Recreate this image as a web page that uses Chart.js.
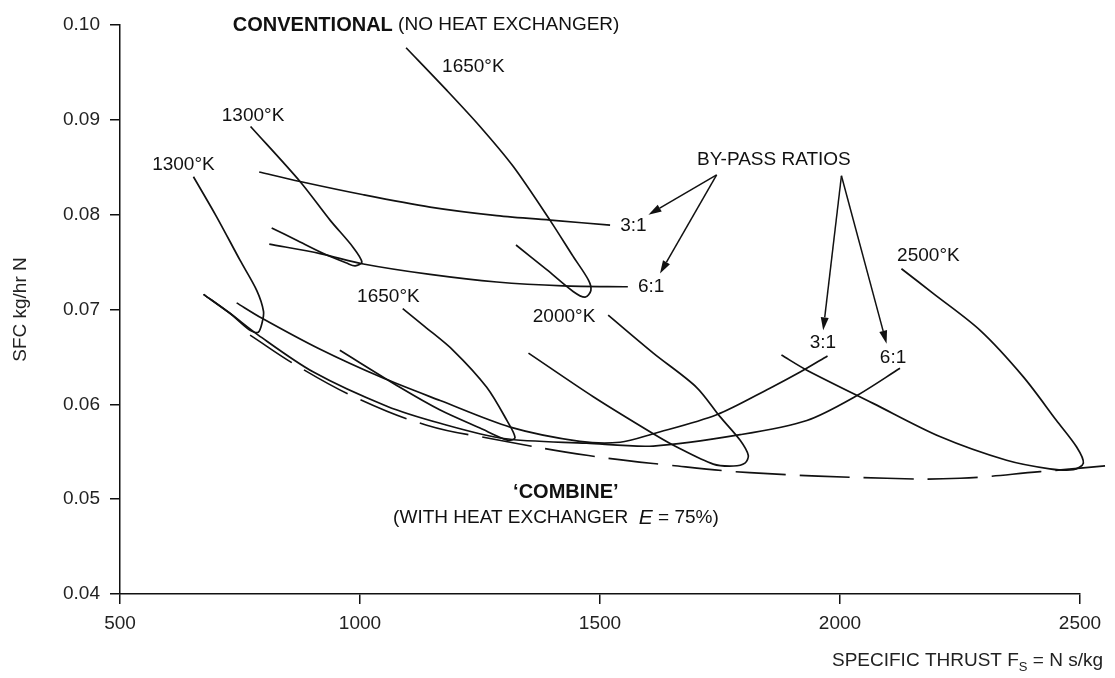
<!DOCTYPE html>
<html>
<head>
<meta charset="utf-8">
<script src="https://cdn.jsdelivr.net/npm/chart.js@4.4.1/dist/chart.umd.min.js"></script>
<style>
    body { margin: 0; background: #fff; }
</style>
</head>
<body>
<canvas id="sfcChart" width="1115" height="678"></canvas>
<script>
// Specific thrust (N s/kg) vs SFC (kg/hr N)
const conv1300 = [[772, 0.0893], [875, 0.0835], [938, 0.0794], [985, 0.0766], [1004, 0.0750], [990, 0.0746], [972, 0.0749], [924, 0.0759], [868, 0.0773], [816, 0.0786]];
const conv1650 = [[1096, 0.0976], [1181, 0.0931], [1250, 0.0893], [1319, 0.0851], [1396, 0.0794], [1444, 0.0756], [1476, 0.0731], [1481, 0.0720], [1469, 0.0713], [1444, 0.0719], [1389, 0.0742], [1325, 0.0768]];
const conv3to1 = [[790, 0.0845], [875, 0.0835], [1007, 0.0821], [1146, 0.0808], [1285, 0.0799], [1403, 0.0794], [1521, 0.0789]];
const conv6to1 = [[811, 0.0769], [917, 0.0759], [1007, 0.0748], [1146, 0.0737], [1285, 0.0729], [1423, 0.0725], [1558, 0.0724]];

const comb1300 = [[653, 0.0840], [701, 0.0798], [750, 0.0752], [785, 0.0720], [799, 0.0698], [796, 0.0686], [788, 0.0676], [771, 0.0678], [729, 0.0696], [674, 0.0716]];
const comb1650 = [[1089, 0.0701], [1135, 0.0682], [1194, 0.0657], [1264, 0.0618], [1306, 0.0583], [1323, 0.0565], [1309, 0.0562], [1250, 0.0575], [1167, 0.0594], [1083, 0.0618], [958, 0.0657]];
const comb2000 = [[1517, 0.0694], [1611, 0.0654], [1701, 0.0618], [1750, 0.0587], [1792, 0.0562], [1809, 0.0546], [1802, 0.0538], [1778, 0.0535], [1736, 0.0537], [1660, 0.0555], [1611, 0.0569], [1486, 0.0608], [1351, 0.0654]];
const comb2500 = [[2128, 0.0743], [2194, 0.0717], [2292, 0.0678], [2382, 0.0629], [2451, 0.0583], [2493, 0.0555], [2507, 0.0538], [2486, 0.0531], [2437, 0.0532], [2347, 0.0541], [2208, 0.0566], [2069, 0.0601], [1931, 0.0636], [1878, 0.0652]];
const comb3to1 = [[743, 0.0707], [795, 0.0691], [917, 0.0658], [1042, 0.0629], [1167, 0.0604], [1313, 0.0576], [1458, 0.0561], [1542, 0.0560], [1611, 0.0569], [1743, 0.0589], [1854, 0.0617], [1917, 0.0634], [1974, 0.0651]];
const comb6to1 = [[674, 0.0716], [729, 0.0696], [788, 0.0673], [903, 0.0634], [1056, 0.0598], [1167, 0.0580], [1299, 0.0564], [1472, 0.0559], [1611, 0.0556], [1792, 0.0568], [1931, 0.0583], [2031, 0.0608], [2125, 0.0638]];

// minimum SFC envelope (dashed)
const envelope = [[771, 0.0673], [871, 0.0640], [996, 0.0606], [1139, 0.0578], [1271, 0.0564], [1476, 0.0546], [1642, 0.0536], [1812, 0.0528], [2097, 0.0522], [2250, 0.0522], [2417, 0.0529], [2573, 0.0536]];

// axis ticks
const xTicks = [500, 1000, 1500, 2000, 2500];
const yTicks = [0.04, 0.05, 0.06, 0.07, 0.08, 0.09, 0.10];

// text on the plot, placed in data units
const notes = [
    { x: 735, y: 0.1000, segs: [['CONVENTIONAL', 'bold'], [' (NO HEAT EXCHANGER)', '']] },
    { x: 1171, y: 0.0956, segs: [['1650°K', '']] },
    { x: 712, y: 0.0904, segs: [['1300°K', '']] },
    { x: 567, y: 0.0853, segs: [['1300°K', '']] },
    { x: 1702, y: 0.0858, segs: [['BY-PASS RATIOS', '']] },
    { x: 1542, y: 0.0788, segs: [['3:1', '']] },
    { x: 1579, y: 0.0724, segs: [['6:1', '']] },
    { x: 994, y: 0.0713, segs: [['1650°K', '']] },
    { x: 1360, y: 0.0692, segs: [['2000°K', '']] },
    { x: 2119, y: 0.0757, segs: [['2500°K', '']] },
    { x: 1937, y: 0.0665, segs: [['3:1', '']] },
    { x: 2083, y: 0.0649, segs: [['6:1', '']] },
    { x: 1319, y: 0.0507, segs: [['\u2018COMBINE\u2019', 'bold']] },
    { x: 1069, y: 0.0480, segs: [['(WITH HEAT EXCHANGER  ', ''], ['E', 'italic'], [' = 75%)', '']] }
];

// arrows from the by-pass label to the ratio labels
const arrows = [
    { from: [1743, 0.0842], to: [1601, 0.0800] },
    { from: [1743, 0.0842], to: [1625, 0.0738] },
    { from: [2003, 0.0841], to: [1965, 0.0678] },
    { from: [2003, 0.0841], to: [2097, 0.0664] }
];

const FONT = '"Liberation Sans", Arial, Helvetica, sans-serif';
const INK = '#111';

function toPoints(arr) {
    return arr.map(p => ({ x: p[0], y: p[1] }));
}

function curve(label, arr, extra) {
    return Object.assign({
        label: label,
        data: toPoints(arr),
        showLine: true,
        borderColor: INK,
        borderWidth: 1.7,
        pointRadius: 0,
        tension: 0.3,
        fill: false,
        clip: false
    }, extra || {});
}

// annotations: labels, arrows, x-axis title
const notesPlugin = {
    id: 'notes',
    afterDatasetsDraw(chart) {
        const ctx = chart.ctx;
        const xs = chart.scales.x;
        const ys = chart.scales.y;
        ctx.save();
        ctx.fillStyle = INK;
        ctx.strokeStyle = INK;
        ctx.textBaseline = 'middle';
        ctx.textAlign = 'left';

        notes.forEach(n => {
            let px = xs.getPixelForValue(n.x);
            const py = ys.getPixelForValue(n.y);
            n.segs.forEach(s => {
                ctx.font = s[1] === 'bold' ? 'bold 20px ' + FONT
                    : s[1] === 'italic' ? 'italic 21px ' + FONT
                    : '19px ' + FONT;
                ctx.fillText(s[0], px, py);
                px += ctx.measureText(s[0]).width;
            });
        });

        ctx.lineWidth = 1.5;
        arrows.forEach(a => {
            const x0 = xs.getPixelForValue(a.from[0]);
            const y0 = ys.getPixelForValue(a.from[1]);
            const x1 = xs.getPixelForValue(a.to[0]);
            const y1 = ys.getPixelForValue(a.to[1]);
            const ang = Math.atan2(y1 - y0, x1 - x0);
            const len = 13, half = 4;
            const bx = x1 - len * Math.cos(ang);
            const by = y1 - len * Math.sin(ang);
            ctx.beginPath();
            ctx.moveTo(x0, y0);
            ctx.lineTo(bx, by);
            ctx.stroke();
            ctx.beginPath();
            ctx.moveTo(x1, y1);
            ctx.lineTo(bx + half * Math.sin(ang), by - half * Math.cos(ang));
            ctx.lineTo(bx - half * Math.sin(ang), by + half * Math.cos(ang));
            ctx.closePath();
            ctx.fill();
        });

        // x-axis title with subscript, right aligned under the axis end
        const area = chart.chartArea;
        const right = area.right + 23;
        const ty = area.bottom + 67;
        const partA = 'SPECIFIC THRUST F';
        const partS = 'S';
        const partB = ' = N s/kg';
        ctx.fillStyle = '#222';
        ctx.font = '19px ' + FONT;
        const wA = ctx.measureText(partA).width;
        const wB = ctx.measureText(partB).width;
        ctx.font = '13px ' + FONT;
        const wS = ctx.measureText(partS).width;
        let tx = right - (wA + wS + wB);
        ctx.font = '19px ' + FONT;
        ctx.fillText(partA, tx, ty);
        tx += wA;
        ctx.font = '13px ' + FONT;
        ctx.fillText(partS, tx, ty + 6);
        tx += wS;
        ctx.font = '19px ' + FONT;
        ctx.fillText(partB, tx, ty);
        ctx.restore();
    }
};

const ctx = document.getElementById('sfcChart').getContext('2d');

const sfcChart = new Chart(ctx, {
    type: 'scatter',
    data: {
        datasets: [
            curve('Conventional 1300K', conv1300),
            curve('Conventional 1650K', conv1650),
            curve('Conventional 3:1', conv3to1),
            curve('Conventional 6:1', conv6to1),
            curve('Combine 1300K', comb1300),
            curve('Combine 1650K', comb1650),
            curve('Combine 2000K', comb2000),
            curve('Combine 2500K', comb2500),
            curve('Combine 3:1', comb3to1),
            curve('Combine 6:1', comb6to1),
            curve('Envelope', envelope, { borderDash: [50, 14], borderWidth: 1.6, tension: 0.4 })
        ]
    },
    options: {
        responsive: false,
        animation: false,
        layout: {
            padding: { left: 0, right: 35, top: 25, bottom: 0 }
        },
        plugins: {
            legend: { display: false },
            tooltip: { enabled: false }
        },
        scales: {
            x: {
                type: 'linear',
                min: 500,
                max: 2500,
                afterBuildTicks: axis => { axis.ticks = xTicks.map(v => ({ value: v })); },
                afterFit: axis => { axis.height = 84; },
                ticks: {
                    color: '#222',
                    font: { family: FONT, size: 19 },
                    padding: 8,
                    maxRotation: 0,
                    callback: v => String(v)
                },
                grid: {
                    drawOnChartArea: false,
                    drawTicks: true,
                    tickLength: 10,
                    color: INK,
                    lineWidth: 1.5
                },
                border: { color: INK, width: 1.5 }
            },
            y: {
                type: 'linear',
                min: 0.04,
                max: 0.10,
                afterBuildTicks: axis => { axis.ticks = yTicks.map(v => ({ value: v })); },
                afterFit: axis => { axis.width = 120; },
                ticks: {
                    color: '#222',
                    font: { family: FONT, size: 19 },
                    padding: 10,
                    callback: v => v.toFixed(2)
                },
                grid: {
                    drawOnChartArea: false,
                    drawTicks: true,
                    tickLength: 10,
                    color: INK,
                    lineWidth: 1.5
                },
                border: { color: INK, width: 1.5 },
                title: {
                    display: true,
                    text: 'SFC kg/hr N',
                    color: '#222',
                    font: { family: FONT, size: 19 },
                    padding: { top: 9, bottom: 0 }
                }
            }
        }
    },
    plugins: [notesPlugin]
});
</script>
</body>
</html>
